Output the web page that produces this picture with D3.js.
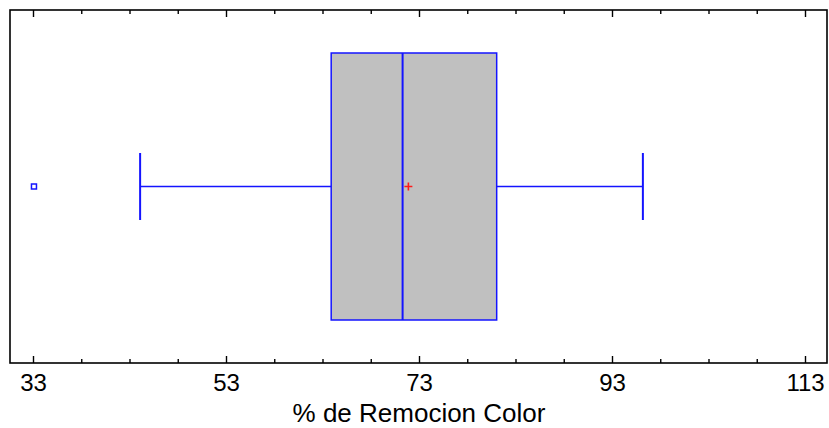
<!DOCTYPE html>
<html>
<head>
<meta charset="utf-8">
<script src="https://cdn.jsdelivr.net/npm/d3@7"></script>
<style>
  html, body { margin: 0; padding: 0; background: #fff; }
  svg { display: block; }
</style>
</head>
<body>
<svg id="chart" width="829" height="428"></svg>
<script>
// Box-and-whisker summary of colour removal (%)
const boxStats = {
  lowerWhisker: 44.1,
  q1: 63.9,
  median: 71.3,
  q3: 81.05,
  upperWhisker: 96.2
};
const meanValue = [71.9];
const outliers = [33.1];
const majorTicks = [33, 53, 73, 93, 113];
const minorTicks = [38, 43, 48, 58, 63, 68, 78, 83, 88, 98, 103, 108];
const axisTitle = "% de Remocion Color";

const frame = { left: 10, right: 827, top: 10, bottom: 363 };
const blue = "#1414ff";
const fontFamily = "'Liberation Sans', Arial, sans-serif";

const svg = d3.select("#chart");

const x = d3.scaleLinear().domain([33, 113]).range([33, 805]);
const yMid = 186.5;
const boxHalf = 133.5;
const capHalf = 33.5;

// plot frame
svg.append("rect")
  .attr("x", frame.left).attr("y", frame.top)
  .attr("width", frame.right - frame.left)
  .attr("height", frame.bottom - frame.top)
  .attr("fill", "#fff")
  .attr("stroke", "#000").attr("stroke-width", 1.6);

// axes: ticks on bottom and top, pointing into the plot
const bottomMajor = d3.axisBottom(x).tickValues(majorTicks).tickSize(-7).tickPadding(11).tickFormat(d3.format("d"));
const bottomMinor = d3.axisBottom(x).tickValues(minorTicks).tickSize(-4).tickFormat("");
const topMajor = d3.axisTop(x).tickValues(majorTicks).tickSize(-7).tickFormat("");
const topMinor = d3.axisTop(x).tickValues(minorTicks).tickSize(-4).tickFormat("");

function styleAxis(g) {
  g.select(".domain").remove();
  g.selectAll(".tick line").attr("stroke", "#000").attr("stroke-width", 1.4);
  g.selectAll(".tick text")
    .attr("fill", "#000")
    .style("font-family", fontFamily)
    .style("font-size", "24px");
}

svg.append("g").attr("transform", `translate(0,${frame.bottom})`).call(bottomMajor).call(styleAxis);
svg.append("g").attr("transform", `translate(0,${frame.bottom})`).call(bottomMinor).call(styleAxis);
svg.append("g").attr("transform", `translate(0,${frame.top})`).call(topMajor).call(styleAxis);
svg.append("g").attr("transform", `translate(0,${frame.top})`).call(topMinor).call(styleAxis);

svg.append("text")
  .attr("x", (x(53) + x(93)) / 2)
  .attr("y", 422)
  .attr("text-anchor", "middle")
  .style("font-family", fontFamily)
  .style("font-size", "26px")
  .attr("fill", "#000")
  .text(axisTitle);

// whiskers
const plot = svg.append("g");
plot.append("line")
  .attr("x1", x(boxStats.lowerWhisker)).attr("x2", x(boxStats.q1))
  .attr("y1", yMid).attr("y2", yMid)
  .attr("stroke", blue).attr("stroke-width", 1.5);
plot.append("line")
  .attr("x1", x(boxStats.q3)).attr("x2", x(boxStats.upperWhisker))
  .attr("y1", yMid).attr("y2", yMid)
  .attr("stroke", blue).attr("stroke-width", 1.5);
plot.selectAll("line.cap")
  .data([boxStats.lowerWhisker, boxStats.upperWhisker])
  .join("line").attr("class", "cap")
  .attr("x1", d => x(d)).attr("x2", d => x(d))
  .attr("y1", yMid - capHalf).attr("y2", yMid + capHalf)
  .attr("stroke", blue).attr("stroke-width", 2);

// box
plot.append("rect")
  .attr("x", x(boxStats.q1)).attr("y", yMid - boxHalf)
  .attr("width", x(boxStats.q3) - x(boxStats.q1))
  .attr("height", 2 * boxHalf)
  .attr("fill", "#c0c0c0")
  .attr("stroke", blue).attr("stroke-width", 1.5);

// median
plot.append("line")
  .attr("x1", x(boxStats.median)).attr("x2", x(boxStats.median))
  .attr("y1", yMid - boxHalf).attr("y2", yMid + boxHalf)
  .attr("stroke", blue).attr("stroke-width", 2);

// mean marker
plot.selectAll("path.mean")
  .data(meanValue)
  .join("path").attr("class", "mean")
  .attr("d", d => `M${x(d) - 4},${yMid}H${x(d) + 4}M${x(d)},${yMid - 4}V${yMid + 4}`)
  .attr("stroke", "#ff1a1a").attr("stroke-width", 1.6).attr("fill", "none");

// outliers
plot.selectAll("rect.outlier")
  .data(outliers)
  .join("rect").attr("class", "outlier")
  .attr("x", d => x(d) - 2.5).attr("y", yMid - 2.5)
  .attr("width", 5).attr("height", 5)
  .attr("fill", "#fff")
  .attr("stroke", blue).attr("stroke-width", 1.5);
</script>
</body>
</html>
